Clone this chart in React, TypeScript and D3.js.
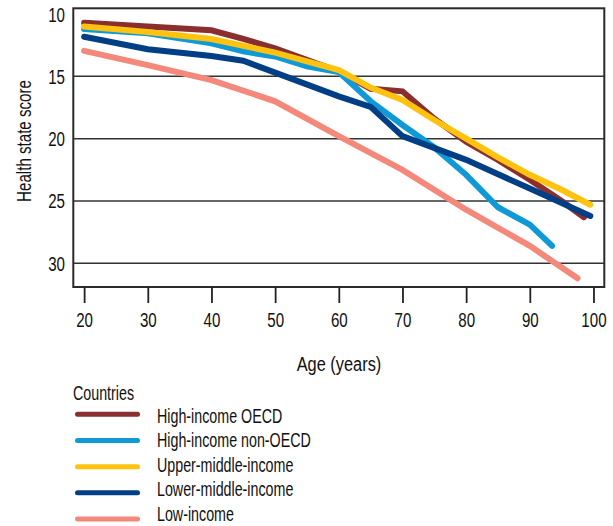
import React, { useEffect, useRef } from 'react';
import * as d3 from 'd3';

// Age (years) and health state score for each income group
const agesHighOecd = [20, 30, 40, 45, 50, 60, 65, 70, 75, 80, 85, 90, 95, 98.5];
const highOecd = [10.7, 11.0, 11.3, 12.0, 12.75, 14.6, 16.0, 16.2, 18.4, 20.25, 21.7, 23.3, 25.0, 26.3];

const agesHighNonOecd = [20, 30, 40, 45, 50, 55, 60, 65, 70, 75, 80, 85, 90, 93.5];
const highNonOecd = [11.2, 11.55, 12.35, 13.0, 13.4, 14.2, 14.65, 17.0, 18.9, 20.7, 22.9, 25.5, 26.9, 28.6];

const agesUpperMiddle = [20, 30, 40, 50, 60, 65, 70, 75, 80, 85, 90, 95, 99.5];
const upperMiddle = [11.0, 11.45, 12.0, 13.1, 14.5, 15.9, 16.9, 18.5, 20.0, 21.5, 22.9, 24.1, 25.3];

const agesLowerMiddle = [20, 30, 40, 45, 50, 60, 65, 70, 80, 90, 99.5];
const lowerMiddle = [11.82, 12.83, 13.37, 13.75, 14.7, 16.6, 17.45, 19.8, 21.7, 24.0, 26.2];

const agesLow = [20, 30, 40, 50, 60, 70, 80, 90, 97.5];
const low = [12.95, 14.1, 15.3, 17.0, 19.8, 22.5, 25.7, 28.6, 31.2];

const seriesNames = [
  'High-income OECD',
  'High-income non-OECD',
  'Upper-middle-income',
  'Lower-middle-income',
  'Low-income',
];
const seriesColors = ['#8a2e2e', '#0f9ad7', '#ffc20e', '#003e86', '#f4887b'];

const xTicks = [20, 30, 40, 50, 60, 70, 80, 90, 100];
const yTicks = [10, 15, 20, 25, 30];
const gridValues = [15, 20, 25, 30];

// no condensed face installed, so squeeze Liberation Sans horizontally
const FONT = '"Liberation Sans", Arial, sans-serif';
const FONT_SIZE = 21;
const SQUEEZE = 'scale(0.72,1)';
const LEGEND_SQUEEZE = 'scale(0.68,1)';

interface Point {
  age: number;
  score: number;
}

const App: React.FC = () => {
  const svgRef = useRef<SVGSVGElement>(null);
  const width = 613;
  const height = 526;
  const frame = { left: 73.3, right: 604.3, top: 8.3, bottom: 287 };

  useEffect(() => {
    if (!svgRef.current) return;
    const svg = d3.select(svgRef.current);
    svg.selectAll('*').remove();

    const xScale = d3.scaleLinear().domain([18.3, 101.7]).range([frame.left, frame.right]);
    const yScale = d3.scaleLinear().domain([9.54, 31.9]).range([frame.top, frame.bottom]);

    const series: Point[][] = [
      agesHighOecd.map((a, i) => ({ age: a, score: highOecd[i] })),
      agesHighNonOecd.map((a, i) => ({ age: a, score: highNonOecd[i] })),
      agesUpperMiddle.map((a, i) => ({ age: a, score: upperMiddle[i] })),
      agesLowerMiddle.map((a, i) => ({ age: a, score: lowerMiddle[i] })),
      agesLow.map((a, i) => ({ age: a, score: low[i] })),
    ];

    // helper for squeezed text placed at (x, y)
    const label = (
      parent: d3.Selection<any, any, any, any>,
      x: number,
      y: number,
      text: string,
      anchor = 'start',
      rotate = 0,
      squeeze = SQUEEZE
    ) =>
      parent
        .append('text')
        .attr('transform', `translate(${x},${y})${rotate ? ` rotate(${rotate})` : ''} ${squeeze}`)
        .attr('text-anchor', anchor)
        .attr('font-family', FONT)
        .attr('font-size', FONT_SIZE)
        .attr('fill', '#111')
        .text(text);

    // grid lines
    svg.append('g')
      .selectAll('line')
      .data(gridValues)
      .enter()
      .append('line')
      .attr('x1', frame.left)
      .attr('x2', frame.right)
      .attr('y1', (d) => yScale(d))
      .attr('y2', (d) => yScale(d))
      .attr('stroke', '#333')
      .attr('stroke-width', 1.5);

    // frame
    svg.append('rect')
      .attr('x', frame.left)
      .attr('y', frame.top)
      .attr('width', frame.right - frame.left)
      .attr('height', frame.bottom - frame.top)
      .attr('fill', 'none')
      .attr('stroke', '#2a2a2a')
      .attr('stroke-width', 2);

    // x axis ticks below the frame
    const xAxis = svg.append('g')
      .attr('transform', `translate(0,${frame.bottom})`)
      .call(d3.axisBottom(xScale).tickValues(xTicks).tickSize(16).tickPadding(9).tickFormat(d3.format('d')));
    xAxis.select('.domain').remove();
    xAxis.selectAll('line').attr('stroke', '#222').attr('stroke-width', 1.8);
    xAxis.selectAll('text')
      .attr('transform', SQUEEZE)
      .attr('font-family', FONT)
      .attr('font-size', FONT_SIZE)
      .attr('fill', '#111');

    // y axis labels
    const yLabels = svg.append('g');
    yTicks.forEach((v) => label(yLabels, 65, yScale(v) + 7.5, String(v), 'end'));

    // axis titles
    label(svg, 31, 141, 'Health state score', 'middle', -90);
    label(svg, 339, 371, 'Age (years)', 'middle', 0, 'scale(0.78,1)');

    // lines
    const line = d3
      .line<Point>()
      .x((d) => xScale(d.age))
      .y((d) => yScale(d.score));

    svg.append('g')
      .selectAll('path')
      .data(series)
      .enter()
      .append('path')
      .attr('fill', 'none')
      .attr('stroke', (d, i) => seriesColors[i])
      .attr('stroke-width', 6)
      .attr('stroke-linecap', 'round')
      .attr('stroke-linejoin', 'miter')
      .attr('d', (d) => line(d));

    // legend
    const legend = svg.append('g');
    label(legend, 73, 400, 'Countries', 'start', 0, LEGEND_SQUEEZE);

    const lineY = d3.scaleLinear().domain([0, 4]).range([414.3, 519]);
    const textY = d3.scaleLinear().domain([0, 4]).range([422.5, 520.5]);

    legend.selectAll('line')
      .data(seriesNames)
      .enter()
      .append('line')
      .attr('x1', 77.5)
      .attr('x2', 137.5)
      .attr('y1', (d, i) => lineY(i))
      .attr('y2', (d, i) => lineY(i))
      .attr('stroke', (d, i) => seriesColors[i])
      .attr('stroke-width', 5)
      .attr('stroke-linecap', 'round');

    seriesNames.forEach((name, i) => label(legend, 157, textY(i), name, 'start', 0, LEGEND_SQUEEZE));
  }, []);

  return (
    <svg
      ref={svgRef}
      width={width}
      height={height}
      style={{ position: 'absolute', left: 0, top: 0, background: '#fff' }}
    />
  );
};

export default App;
